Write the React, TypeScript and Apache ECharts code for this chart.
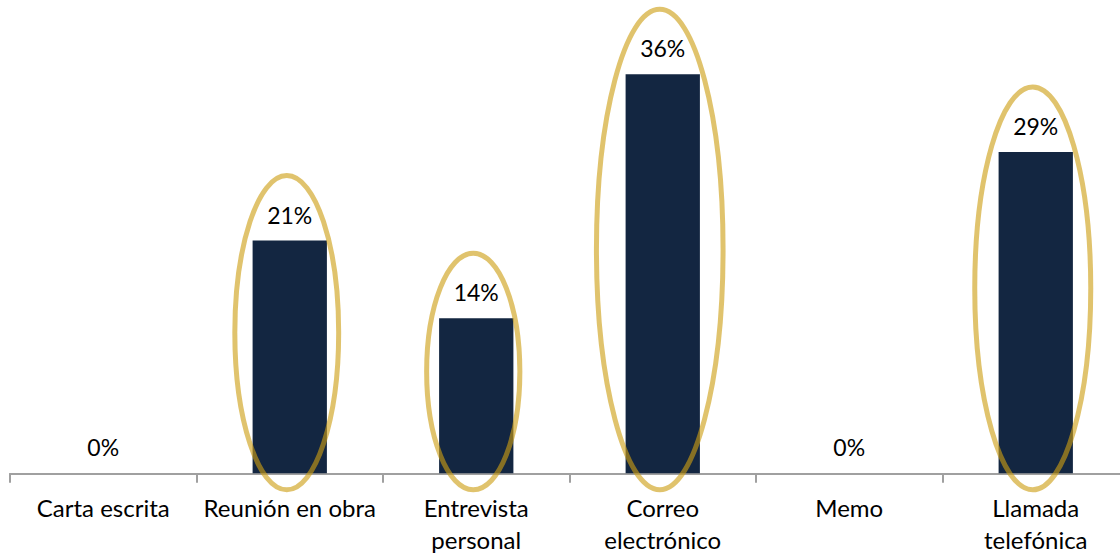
import React, { useEffect, useRef } from "react";
import * as echarts from "echarts";

const categories = [
  "Carta escrita",
  "Reunión en obra",
  "Entrevista\npersonal",
  "Correo\nelectrónico",
  "Memo",
  "Llamada\ntelefónica",
];
const values = [0, 21, 14, 36, 0, 29];
const circled = ["Reunión en obra", "Entrevista\npersonal", "Correo\nelectrónico", "Llamada\ntelefónica"];
const yMax = 40;

const FONT = "Lato";

export default function App() {
  const ref = useRef<HTMLDivElement>(null);
  useEffect(() => {
    if (!ref.current) return;
    const chart = echarts.init(ref.current, undefined, { renderer: "svg" });
    const ellipseData = categories
      .map((c, i) => (circled.includes(c) ? [i, values[i]] : null))
      .filter((d) => d !== null);
    chart.setOption({
      animation: false,
      backgroundColor: "#ffffff",
      grid: {
        left: 10,
        top: 30,
        width: 1119,
        height: 443.3,
        containLabel: false,
        outerBoundsMode: "none",
      },
      xAxis: {
        type: "category",
        data: categories,
        axisLine: { lineStyle: { color: "#a0a0a0", width: 2 } },
        axisTick: { show: true, length: 9.5, lineStyle: { color: "#a0a0a0", width: 2 } },
        axisLabel: {
          color: "#000",
          fontFamily: FONT,
          fontSize: 24,
          lineHeight: 31.5,
          margin: 18.5,
          interval: 0,
        },
      },
      yAxis: { type: "value", min: 0, max: yMax, show: false, splitLine: { show: false } },
      series: [
        {
          type: "bar",
          data: values,
          barWidth: 74.3,
          itemStyle: { color: "#132641" },
          label: {
            show: true,
            position: "top",
            distance: 14.5,
            formatter: "{c}%",
            color: "#000",
            fontFamily: FONT,
            fontSize: 23,
            lineHeight: 23,
          },
          z: 2,
        },
        {
          type: "custom",
          data: ellipseData,
          encode: { x: 0, y: 1 },
          z: 3,
          silent: true,
          renderItem: (params: any, api: any) => {
            const i = api.value(0);
            const v = api.value(1);
            const top = api.coord([i, v]);
            const base = api.coord([i, 0]);
            const y1 = top[1] - 65;
            const y2 = base[1] + 16.5;
            const ry = (y2 - y1) / 2;
            const rx = 30.4 + 0.137 * ry;
            return {
              type: "ellipse",
              shape: { cx: top[0] - 3, cy: (y1 + y2) / 2, rx, ry },
              style: { fill: "none", stroke: "rgba(205,158,20,0.62)", lineWidth: 5 },
            };
          },
        },
      ],
    });
    return () => chart.dispose();
  }, []);
  return (
    <div
      ref={ref}
      style={{ position: "fixed", left: 0, top: 0, width: 1120, height: 554, background: "#fff" }}
    />
  );
}
